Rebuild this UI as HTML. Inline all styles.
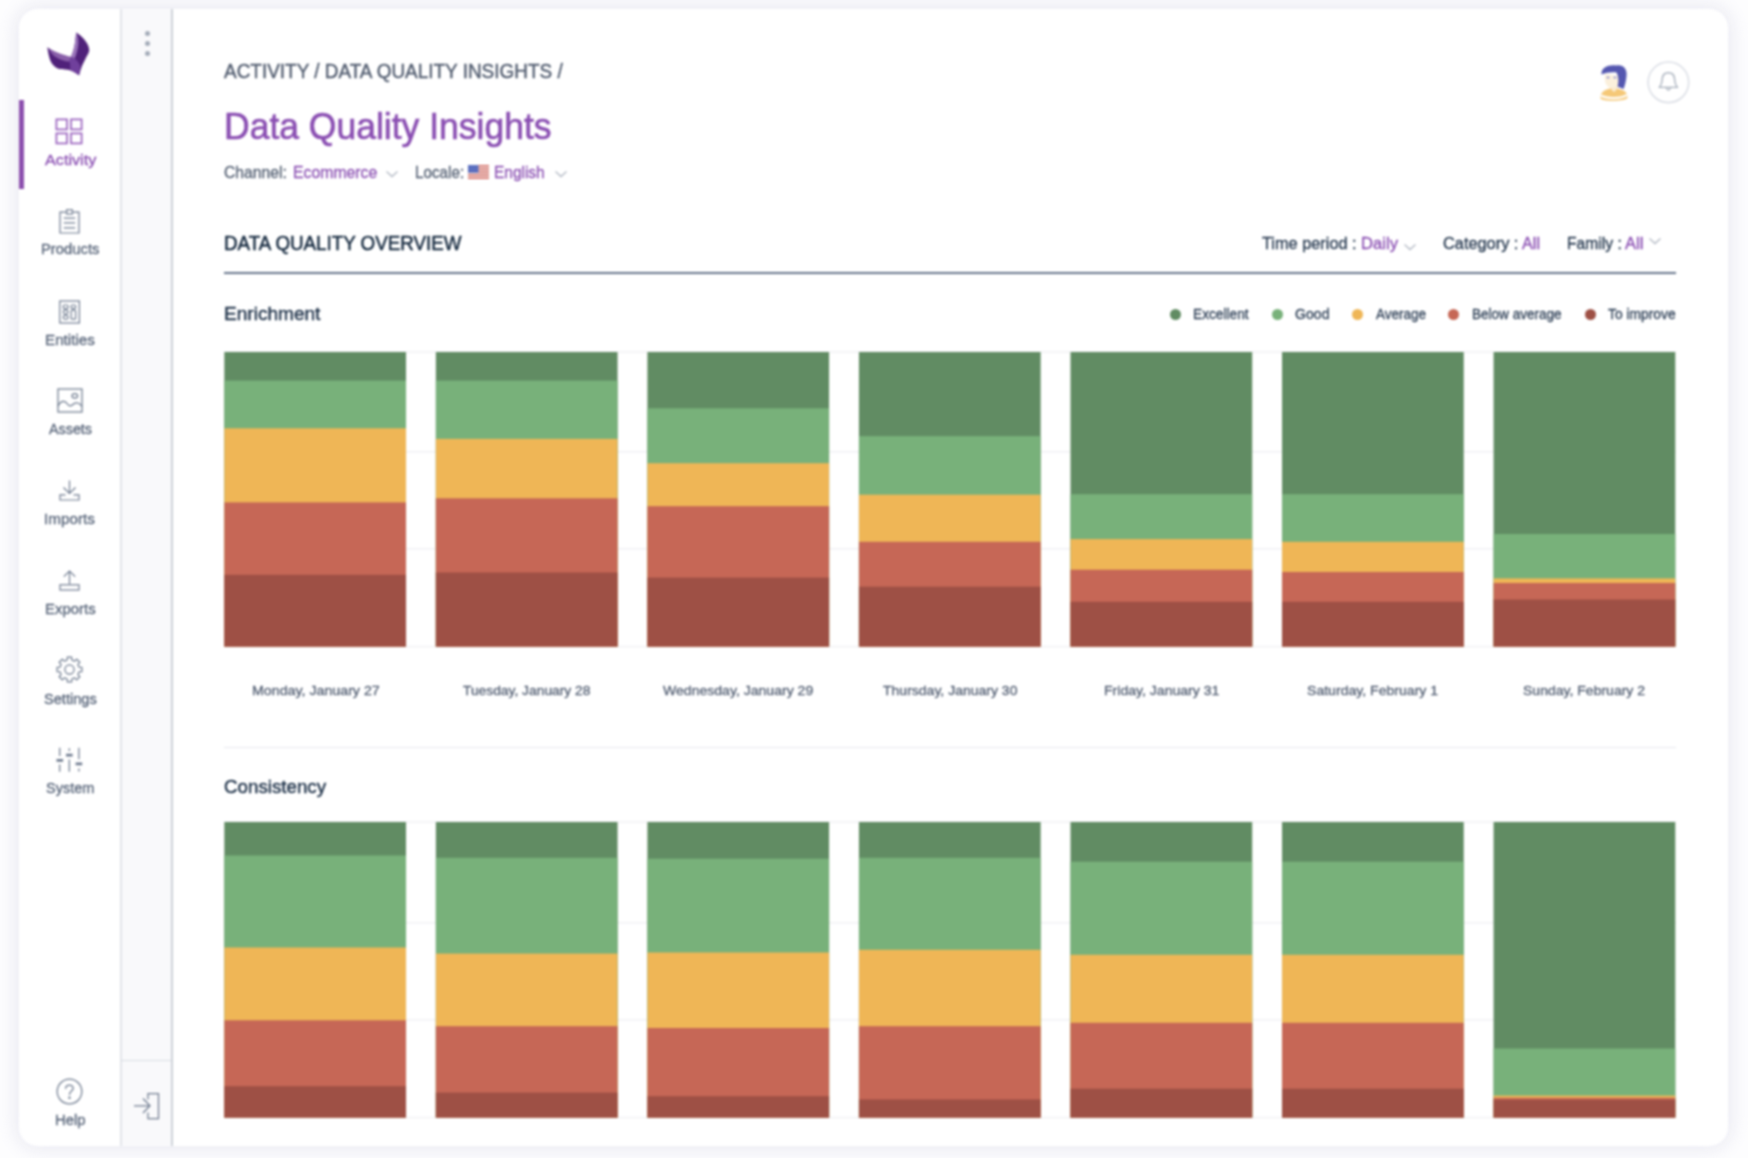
<!DOCTYPE html>
<html lang="en">
<head>
<meta charset="utf-8">
<title>Data Quality Insights</title>
<style>
html,body{margin:0;padding:0;}
body{width:1748px;height:1158px;overflow:hidden;background:#fdfdfe;position:relative;
 font-family:"Liberation Sans",sans-serif;}
.card{position:absolute;left:19px;top:9px;width:1709px;height:1137px;background:#fff;border-radius:19px;
 box-shadow:0 0 20px 3px #e8e8f1;overflow:hidden;}
.page{position:absolute;left:-20px;top:-20px;width:1788px;height:1198px;filter:blur(0.8px);}
.inner{position:absolute;left:20px;top:20px;width:1748px;height:1158px;}
.abs{position:absolute;}
.t{-webkit-text-stroke:0.3px currentColor;position:absolute;white-space:nowrap;line-height:1;transform-origin:0 0;display:block;}
svg{position:absolute;overflow:visible;}
</style>
</head>
<body>
<div class="page"><div class="inner">
<div class="card"></div>
<div class="abs" style="left:121px;top:9px;width:51px;height:1137px;background:#f9f9fb;"></div>
<div class="abs" style="left:120.3px;top:9px;width:1.4px;height:1137px;background:#e2e4ea;"></div>
<div class="abs" style="left:171.25px;top:9px;width:1.5px;height:1137px;background:#cdd1d9;"></div>
<div class="abs" style="left:121px;top:1059.9px;width:50px;height:1.4px;background:#d9dde3;"></div>
<div class="abs" style="left:144.7px;top:31.2px;width:5px;height:5px;border-radius:50%;background:#a3abb8;"></div>
<div class="abs" style="left:144.7px;top:41.3px;width:5px;height:5px;border-radius:50%;background:#a3abb8;"></div>
<div class="abs" style="left:144.7px;top:51.4px;width:5px;height:5px;border-radius:50%;background:#a3abb8;"></div>
<div class="abs" style="left:19px;top:100px;width:5px;height:89px;background:#8c4fae;"></div>
<nav>
<svg style="left:44px;top:30px;" width="48" height="48" viewBox="0 0 48 48">
<path d="M3.3 17.2 C4 22 5 27 6.4 30.7 C8 34.5 11 37.8 15.2 39 C19 39.8 23 39.4 26 40.3 C29.5 41.5 32.5 43.5 35.1 45.3 C36 42 36.8 39 37.9 36.2 C39.5 32.5 41 30 41.8 27.9 C43.5 25 45 22.5 45.3 20.2 C45 18 44.5 16 43.4 14.1 C42 11.5 40.5 9.8 39 8 C37 5.8 34.8 4 32.1 2.5 C32 5 31.7 7.5 31.25 10.2 C31 13 30.7 15 30.1 17.4 C29.5 20 28.8 22.5 27.9 24.6 L26.8 27.1 C24.5 26.5 22.5 25.8 20.75 25.2 C18.5 24.5 16 23.8 14.1 23 C12 22.2 10 21.2 8 20.2 C6.3 19.3 4.8 18.3 3.3 17.2Z" fill="#50217a"/>
<path d="M26.8 27.1 L30.8 28.3 C33 30.5 35 33 36.3 36 C36 39 35.6 42 35.1 45.3 C32.5 43.5 29.5 41.5 26 40.3 C26.5 37 26.3 34 25.4 31.6Z" fill="#70409c"/>
<path d="M32.1 2.5 C32 5 31.7 7.5 31.25 10.2 C31 13 30.7 15 30.1 17.4 C29.5 20 28.8 22.5 27.9 24.6 L26.8 27.1 L30.8 28.3 C32.5 24 33.8 19 34.3 14 C34.6 10 34 6 32.1 2.5Z" fill="#9a74ba"/>
<path d="M4.2 18 C6 19.2 8 20.2 8 20.2 C10 21.2 12 22.2 14.1 23 C16 23.8 18.5 24.5 20.75 25.2 C22.5 25.8 24.5 26.5 26.8 27.1 L25.4 31.6 C21 31.5 16 29.8 12 27.3 C9 25.3 6.3 22.5 4.2 18Z" fill="#8a60aa"/>
</svg>
<svg style="left:55px;top:118px;" width="28" height="27" viewBox="0 0 28 27" fill="none" stroke="#9a63bf" stroke-width="1.7">
<rect x="1.4" y="1.4" width="10.6" height="10" /><rect x="16" y="1.4" width="10.6" height="10"/>
<rect x="1.4" y="15.4" width="10.6" height="10"/><rect x="16" y="15.4" width="10.6" height="10"/></svg>
<span class="t" style="left:44.6px;top:151.7px;font-size:15px;color:#8a4eb2;transform:scaleX(1.0799);">Activity</span>
<svg style="left:59px;top:209px;" width="21" height="25" viewBox="0 0 21 25" fill="none" stroke="#6f7b8f" stroke-width="1.2">
<path d="M6.8 3.1H1V24H20V3.1H14.2"/><rect x="7.6" y="0.8" width="5.8" height="4.2"/>
<path d="M4.8 9.2H16.2M4.8 13.9H16.2M4.8 18.8H16.2"/></svg>
<span class="t" style="left:40.7px;top:241.3px;font-size:15px;color:#566378;transform:scaleX(0.9866);">Products</span>
<svg style="left:59px;top:300px;" width="21" height="24" viewBox="0 0 21 24" fill="none" stroke="#6f7b8f" stroke-width="1.2">
<rect x="0.8" y="1" width="19.6" height="22"/>
<rect x="4.3" y="5" width="4.8" height="3.6" rx="1.3"/><rect x="4.3" y="10.2" width="4.8" height="3.6" rx="1.8"/><rect x="4.3" y="15.4" width="4.8" height="3.8" rx="1.8"/>
<rect x="12.2" y="5" width="4.4" height="3.6" rx="1.3"/><rect x="12.2" y="10.2" width="4.4" height="9" rx="1"/></svg>
<span class="t" style="left:44.7px;top:331.7px;font-size:15px;color:#566378;transform:scaleX(1.0144);">Entities</span>
<svg style="left:56.5px;top:388px;" width="26" height="25" viewBox="0 0 26 25" fill="none" stroke="#6f7b8f" stroke-width="1.25">
<rect x="1" y="1" width="24" height="23"/>
<path d="M1 18 C4 12.5 7.5 12 10 15.5 C12 18.5 14 18.5 16.5 16 C19.5 13.5 22.5 15 25 18.5"/>
<ellipse cx="17.8" cy="7.8" rx="2.8" ry="2.3"/></svg>
<span class="t" style="left:48.5px;top:421.2px;font-size:15px;color:#566378;transform:scaleX(0.9552);">Assets</span>
<svg style="left:59px;top:480px;" width="21" height="21" viewBox="0 0 21 21" fill="none" stroke="#6f7b8f" stroke-width="1.2">
<path d="M10.5 0.5V13.5M4.5 7.5L10.5 13.5L16.5 7.5"/>
<path d="M6.5 14.8H1V20H20V14.8H14.5"/></svg>
<span class="t" style="left:44.3px;top:510.8px;font-size:15px;color:#566378;transform:scaleX(1.0198);">Imports</span>
<svg style="left:59px;top:570px;" width="21" height="21" viewBox="0 0 21 21" fill="none" stroke="#6f7b8f" stroke-width="1.2">
<path d="M10.5 14V1M4.8 6.7L10.5 1L16.2 6.7"/>
<rect x="1" y="14.8" width="19" height="5.2"/></svg>
<span class="t" style="left:44.7px;top:600.8px;font-size:15px;color:#566378;transform:scaleX(0.9950);">Exports</span>
<svg style="left:56px;top:656px;" width="27" height="27" viewBox="0 0 27 27" fill="none" stroke="#6f7b8f" stroke-width="1.2" stroke-linejoin="round">
<path d="M25.91 11.33 L25.91 15.67 L23.03 15.79 L21.86 18.62 L23.81 20.75 L20.75 23.81 L18.62 21.86 L15.79 23.03 L15.67 25.91 L11.33 25.91 L11.21 23.03 L8.38 21.86 L6.25 23.81 L3.19 20.75 L5.14 18.62 L3.97 15.79 L1.09 15.67 L1.09 11.33 L3.97 11.21 L5.14 8.38 L3.19 6.25 L6.25 3.19 L8.38 5.14 L11.21 3.97 L11.33 1.09 L15.67 1.09 L15.79 3.97 L18.62 5.14 L20.75 3.19 L23.81 6.25 L21.86 8.38 L23.03 11.21Z"/><circle cx="13.5" cy="13.5" r="4.6"/></svg>
<span class="t" style="left:43.6px;top:690.5px;font-size:15px;color:#566378;transform:scaleX(0.9742);">Settings</span>
<svg style="left:56px;top:746px;" width="27" height="27" viewBox="0 0 27 27" fill="none" stroke="#6f7b8f" stroke-width="1.25">
<path d="M3.7 1.8V10M3.7 18.6V25.7M13.3 2.2V5M13.3 13.6V25.7M22.9 1.8V13.2M22.9 22.4V25.4"/>
<path d="M0.5 14.3H7.1M10 9.1H16.6M19.6 17.9H26.2" stroke-width="2.8"/></svg>
<span class="t" style="left:45.8px;top:780.3px;font-size:15px;color:#566378;transform:scaleX(0.9678);">System</span>
<svg style="left:56px;top:1077.8px;" width="27" height="27" viewBox="0 0 27 27" fill="none" stroke="#6f7b8f" stroke-width="1.25">
<circle cx="13.5" cy="13.5" r="12.3"/>
<path d="M9.6 10.4 C9.8 6 17.4 6 17.2 10.4 C17.1 13 13.5 13.2 13.5 16.4" stroke-linecap="round"/><circle cx="13.5" cy="19.8" r="0.6" fill="#6f7b8f"/></svg>
<span class="t" style="left:54.9px;top:1111.9px;font-size:15px;color:#566378;transform:scaleX(0.9886);">Help</span>
</nav>
<svg style="left:133px;top:1092px;" width="27" height="28" viewBox="0 0 27 28" fill="none" stroke="#6f7b8f" stroke-width="1.25">
<path d="M1 13.8H16.5M10 6.5L17 13.8L10 21"/>
<path d="M15 7.5V1.5H25.5V26.5H15V20.5"/></svg>
<header>
<span class="t" style="left:224.3px;top:61.4px;font-size:20px;color:#505b6e;transform:scaleX(0.9474);-webkit-text-stroke:0.4px #505b6e;">ACTIVITY / DATA QUALITY INSIGHTS /</span>
<h1 style="margin:0;font-weight:400;"><span class="t" style="left:223.8px;top:108.5px;font-size:36px;color:#8a4eb2;transform:scaleX(0.9860);-webkit-text-stroke:0.6px #8a4eb2;">Data Quality Insights</span></h1>
<span class="t" style="left:224.3px;top:164.2px;font-size:17px;color:#525e71;transform:scaleX(0.9243);">Channel:</span>
<span class="t" style="left:293.0px;top:164.2px;font-size:17px;color:#8a4eb2;transform:scaleX(0.9295);">Ecommerce</span>
<svg style="left:385px;top:169px;" width="14" height="10" viewBox="0 0 14 10" fill="none" stroke="#b4bac5" stroke-width="1.3"><path d="M1.5 2.5L7 7.5L12.5 2.5"/></svg>
<span class="t" style="left:414.5px;top:164.2px;font-size:17px;color:#525e71;transform:scaleX(0.8975);">Locale:</span>
<svg style="left:468px;top:164.5px;" width="21" height="14" viewBox="0 0 21 14">
<rect width="21" height="14" fill="#f3efee"/>
<g fill="#d4675f"><rect y="0" width="21" height="1.6"/><rect y="3.1" width="21" height="1.6"/><rect y="6.2" width="21" height="1.6"/><rect y="9.3" width="21" height="1.6"/><rect y="12.4" width="21" height="1.6"/></g>
<rect width="10.5" height="7.8" fill="#5a6fc0"/></svg>
<span class="t" style="left:494.0px;top:164.2px;font-size:17px;color:#8a4eb2;transform:scaleX(0.9093);">English</span>
<svg style="left:553.5px;top:169px;" width="14" height="10" viewBox="0 0 14 10" fill="none" stroke="#b4bac5" stroke-width="1.3"><path d="M1.5 2.5L7 7.5L12.5 2.5"/></svg>
<svg style="left:1596px;top:62px;" width="36" height="42" viewBox="0 0 36 42">
<path d="M9 12 C8 20 10 24 14 26 L14 29 L22 29 L24 14 Z" fill="#fbf0dc"/>
<path d="M5.5 12.5 C5 5 13 2.5 20 3.5 C27 2 31.5 7 30.5 14 C30 19 29 23 27.5 27 L21.5 24.5 C23 20 22.5 14 20.5 10.5 C16 10 10 10.5 5.5 12.5Z" fill="#5457b0"/>
<ellipse cx="12" cy="15.6" rx="1.5" ry="1" fill="#8f93d6"/><ellipse cx="19" cy="15.6" rx="1.5" ry="1" fill="#8f93d6"/>
<path d="M4.5 36 C4.5 29 10 26.5 17.5 26.5 C25.5 26.5 31.5 29 31.5 35.5 C31.5 39.5 4.5 40 4.5 36Z" fill="#f5c877"/>
<path d="M5 33.5 C11 37 25 37 31 32.8" fill="none" stroke="#fff" stroke-width="2.2"/>
<path d="M14.5 26.6 L18 30 L21.5 26.6Z" fill="#fbf0dc"/>
</svg>
<svg style="left:1646px;top:60px;" width="45" height="45" viewBox="0 0 45 45" fill="none">
<circle cx="22.4" cy="22.3" r="20.3" stroke="#dcdfe6" stroke-width="1.6"/>
<path d="M13.2 27.4 C15.8 25 16 21.5 16.3 18.5 C16.7 14.5 19.3 12.7 22.4 12.7 C25.5 12.7 28.1 14.5 28.5 18.5 C28.8 21.5 29 25 31.6 27.4 Z" stroke="#a9b1bd" stroke-width="1.4" stroke-linejoin="round"/>
<path d="M20.3 27.7 Q22.4 32.6 24.5 27.7" stroke="#a9b1bd" stroke-width="1.3"/>
</svg>
</header>
<section>
<h2 style="margin:0;font-weight:400;"><span class="t" style="left:224.3px;top:233.4px;font-size:20px;color:#15293f;transform:scaleX(0.9382);-webkit-text-stroke:0.5px #15293f;">DATA QUALITY OVERVIEW</span></h2>
<span class="t" style="left:1262.4px;top:235.3px;font-size:16.5px;color:#23364d;transform:scaleX(0.9888);">Time period :</span>
<span class="t" style="left:1361.0px;top:235.3px;font-size:16.5px;color:#8a4eb2;transform:scaleX(1.0089);">Daily</span>
<svg style="left:1403px;top:241.5px;" width="14" height="10" viewBox="0 0 14 10" fill="none" stroke="#b4bac5" stroke-width="1.3"><path d="M1.5 2.5L7 7.5L12.5 2.5"/></svg>
<span class="t" style="left:1442.6px;top:235.3px;font-size:16.5px;color:#23364d;transform:scaleX(0.9905);">Category :</span>
<span class="t" style="left:1522.0px;top:235.3px;font-size:16.5px;color:#8a4eb2;transform:scaleX(0.9816);">All</span>
<span class="t" style="left:1566.8px;top:235.3px;font-size:16.5px;color:#23364d;transform:scaleX(0.9489);">Family :</span>
<span class="t" style="left:1625.0px;top:235.3px;font-size:16.5px;color:#8a4eb2;transform:scaleX(1.0034);">All</span>
<svg style="left:1648px;top:236px;" width="14" height="10" viewBox="0 0 14 10" fill="none" stroke="#b4bac5" stroke-width="1.3"><path d="M1.5 2.5L7 7.5L12.5 2.5"/></svg>
<div class="abs" style="left:224px;top:272px;width:1452px;height:2px;background:#66748a;"></div>
<h3 style="margin:0;font-weight:400;"><span class="t" style="left:224.1px;top:303.9px;font-size:19px;color:#22354c;transform:scaleX(1.0031);-webkit-text-stroke:0.45px #22354c;">Enrichment</span></h3>
<div class="abs" style="left:1169.7px;top:308.7px;width:11px;height:11px;border-radius:50%;background:#618c63;"></div>
<span class="t" style="left:1193.4px;top:307.1px;font-size:14.5px;color:#2c3e55;transform:scaleX(0.9450);">Excellent</span>
<div class="abs" style="left:1271.9px;top:308.7px;width:11px;height:11px;border-radius:50%;background:#78b17a;"></div>
<span class="t" style="left:1295.0px;top:307.1px;font-size:14.5px;color:#2c3e55;transform:scaleX(0.9726);">Good</span>
<div class="abs" style="left:1352.1px;top:308.7px;width:11px;height:11px;border-radius:50%;background:#efb656;"></div>
<span class="t" style="left:1375.5px;top:307.1px;font-size:14.5px;color:#2c3e55;transform:scaleX(0.9303);">Average</span>
<div class="abs" style="left:1448.2px;top:308.7px;width:11px;height:11px;border-radius:50%;background:#c66756;"></div>
<span class="t" style="left:1472.0px;top:307.1px;font-size:14.5px;color:#2c3e55;transform:scaleX(0.9341);">Below average</span>
<div class="abs" style="left:1584.5px;top:308.7px;width:11px;height:11px;border-radius:50%;background:#9e5045;"></div>
<span class="t" style="left:1608.4px;top:307.1px;font-size:14.5px;color:#2c3e55;transform:scaleX(0.9532);">To improve</span>
<svg role="img" aria-label="Enrichment chart" style="left:224.0px;top:350.0px;" width="1452.6" height="298.6" viewBox="0 -2 1452.6 298.6"><rect x="0" y="-0.70" width="1452.0" height="1.4" fill="#f0f0f4"/><rect x="0" y="99.00" width="1452.0" height="1.4" fill="#f0f0f4"/><rect x="0" y="196.00" width="1452.0" height="1.4" fill="#f0f0f4"/><rect x="0" y="293.90" width="1452.0" height="1.4" fill="#f0f0f4"/><rect x="0.30" y="0.00" width="181.7" height="294.60" fill="#618c63"/><rect x="0.30" y="28.60" width="181.7" height="266.00" fill="#78b17a"/><rect x="0.30" y="76.30" width="181.7" height="218.30" fill="#efb656"/><rect x="0.30" y="150.40" width="181.7" height="144.20" fill="#c66756"/><rect x="0.30" y="222.80" width="181.7" height="71.80" fill="#9e5045"/><rect x="211.85" y="0.00" width="181.7" height="294.60" fill="#618c63"/><rect x="211.85" y="28.60" width="181.7" height="266.00" fill="#78b17a"/><rect x="211.85" y="86.90" width="181.7" height="207.70" fill="#efb656"/><rect x="211.85" y="146.30" width="181.7" height="148.30" fill="#c66756"/><rect x="211.85" y="220.50" width="181.7" height="74.10" fill="#9e5045"/><rect x="423.40" y="0.00" width="181.7" height="294.60" fill="#618c63"/><rect x="423.40" y="56.30" width="181.7" height="238.30" fill="#78b17a"/><rect x="423.40" y="111.20" width="181.7" height="183.40" fill="#efb656"/><rect x="423.40" y="154.20" width="181.7" height="140.40" fill="#c66756"/><rect x="423.40" y="225.60" width="181.7" height="69.00" fill="#9e5045"/><rect x="634.95" y="0.00" width="181.7" height="294.60" fill="#618c63"/><rect x="634.95" y="84.10" width="181.7" height="210.50" fill="#78b17a"/><rect x="634.95" y="142.70" width="181.7" height="151.90" fill="#efb656"/><rect x="634.95" y="189.80" width="181.7" height="104.80" fill="#c66756"/><rect x="634.95" y="234.70" width="181.7" height="59.90" fill="#9e5045"/><rect x="846.50" y="0.00" width="181.7" height="294.60" fill="#618c63"/><rect x="846.50" y="142.20" width="181.7" height="152.40" fill="#78b17a"/><rect x="846.50" y="187.10" width="181.7" height="107.50" fill="#efb656"/><rect x="846.50" y="217.70" width="181.7" height="76.90" fill="#c66756"/><rect x="846.50" y="249.80" width="181.7" height="44.80" fill="#9e5045"/><rect x="1058.05" y="0.00" width="181.7" height="294.60" fill="#618c63"/><rect x="1058.05" y="142.20" width="181.7" height="152.40" fill="#78b17a"/><rect x="1058.05" y="189.80" width="181.7" height="104.80" fill="#efb656"/><rect x="1058.05" y="220.00" width="181.7" height="74.60" fill="#c66756"/><rect x="1058.05" y="249.80" width="181.7" height="44.80" fill="#9e5045"/><rect x="1269.60" y="0.00" width="181.7" height="294.60" fill="#618c63"/><rect x="1269.60" y="182.00" width="181.7" height="112.60" fill="#78b17a"/><rect x="1269.60" y="226.40" width="181.7" height="68.20" fill="#efb656"/><rect x="1269.60" y="231.00" width="181.7" height="63.60" fill="#c66756"/><rect x="1269.60" y="247.50" width="181.7" height="47.10" fill="#9e5045"/></svg>
<span class="t" style="left:251.8px;top:683.5px;font-size:13.6px;color:#525e72;transform:scaleX(1.0456);">Monday, January 27</span>
<span class="t" style="left:463.4px;top:683.5px;font-size:13.6px;color:#525e72;transform:scaleX(1.0160);">Tuesday, January 28</span>
<span class="t" style="left:663.3px;top:683.5px;font-size:13.6px;color:#525e72;transform:scaleX(1.0336);">Wednesday, January 29</span>
<span class="t" style="left:883.1px;top:683.5px;font-size:13.6px;color:#525e72;transform:scaleX(1.0304);">Thursday, January 30</span>
<span class="t" style="left:1103.6px;top:683.5px;font-size:13.6px;color:#525e72;transform:scaleX(1.0338);">Friday, January 31</span>
<span class="t" style="left:1306.9px;top:683.5px;font-size:13.6px;color:#525e72;transform:scaleX(1.0351);">Saturday, February 1</span>
<span class="t" style="left:1523.1px;top:683.5px;font-size:13.6px;color:#525e72;transform:scaleX(1.0309);">Sunday, February 2</span>
<div class="abs" style="left:224px;top:746.5px;width:1452px;height:1.5px;background:#e6e8ee;"></div>
<h3 style="margin:0;font-weight:400;"><span class="t" style="left:223.8px;top:777.1px;font-size:19px;color:#22354c;transform:scaleX(0.9866);-webkit-text-stroke:0.45px #22354c;">Consistency</span></h3>
<svg role="img" aria-label="Consistency chart" style="left:224.0px;top:819.7px;" width="1452.6" height="299.6" viewBox="0 -2 1452.6 299.6"><rect x="0" y="-0.70" width="1452.0" height="1.4" fill="#f0f0f4"/><rect x="0" y="100.10" width="1452.0" height="1.4" fill="#f0f0f4"/><rect x="0" y="197.10" width="1452.0" height="1.4" fill="#f0f0f4"/><rect x="0" y="294.90" width="1452.0" height="1.4" fill="#f0f0f4"/><rect x="0.30" y="0.00" width="181.7" height="295.60" fill="#618c63"/><rect x="0.30" y="33.50" width="181.7" height="262.10" fill="#78b17a"/><rect x="0.30" y="125.50" width="181.7" height="170.10" fill="#efb656"/><rect x="0.30" y="198.30" width="181.7" height="97.30" fill="#c66756"/><rect x="0.30" y="264.20" width="181.7" height="31.40" fill="#9e5045"/><rect x="211.85" y="0.00" width="181.7" height="295.60" fill="#618c63"/><rect x="211.85" y="35.80" width="181.7" height="259.80" fill="#78b17a"/><rect x="211.85" y="131.60" width="181.7" height="164.00" fill="#efb656"/><rect x="211.85" y="204.20" width="181.7" height="91.40" fill="#c66756"/><rect x="211.85" y="270.60" width="181.7" height="25.00" fill="#9e5045"/><rect x="423.40" y="0.00" width="181.7" height="295.60" fill="#618c63"/><rect x="423.40" y="36.70" width="181.7" height="258.90" fill="#78b17a"/><rect x="423.40" y="130.50" width="181.7" height="165.10" fill="#efb656"/><rect x="423.40" y="206.00" width="181.7" height="89.60" fill="#c66756"/><rect x="423.40" y="274.20" width="181.7" height="21.40" fill="#9e5045"/><rect x="634.95" y="0.00" width="181.7" height="295.60" fill="#618c63"/><rect x="634.95" y="35.80" width="181.7" height="259.80" fill="#78b17a"/><rect x="634.95" y="127.80" width="181.7" height="167.80" fill="#efb656"/><rect x="634.95" y="204.20" width="181.7" height="91.40" fill="#c66756"/><rect x="634.95" y="277.40" width="181.7" height="18.20" fill="#9e5045"/><rect x="846.50" y="0.00" width="181.7" height="295.60" fill="#618c63"/><rect x="846.50" y="39.70" width="181.7" height="255.90" fill="#78b17a"/><rect x="846.50" y="132.80" width="181.7" height="162.80" fill="#efb656"/><rect x="846.50" y="200.80" width="181.7" height="94.80" fill="#c66756"/><rect x="846.50" y="266.70" width="181.7" height="28.90" fill="#9e5045"/><rect x="1058.05" y="0.00" width="181.7" height="295.60" fill="#618c63"/><rect x="1058.05" y="39.70" width="181.7" height="255.90" fill="#78b17a"/><rect x="1058.05" y="132.80" width="181.7" height="162.80" fill="#efb656"/><rect x="1058.05" y="200.80" width="181.7" height="94.80" fill="#c66756"/><rect x="1058.05" y="266.70" width="181.7" height="28.90" fill="#9e5045"/><rect x="1269.60" y="0.00" width="181.7" height="295.60" fill="#618c63"/><rect x="1269.60" y="226.50" width="181.7" height="69.10" fill="#78b17a"/><rect x="1269.60" y="273.60" width="181.7" height="22.00" fill="#efb656"/><rect x="1269.60" y="275.80" width="181.7" height="19.80" fill="#c66756"/><rect x="1269.60" y="277.70" width="181.7" height="17.90" fill="#9e5045"/></svg>
</section>
</div></div>
</body>
</html>
